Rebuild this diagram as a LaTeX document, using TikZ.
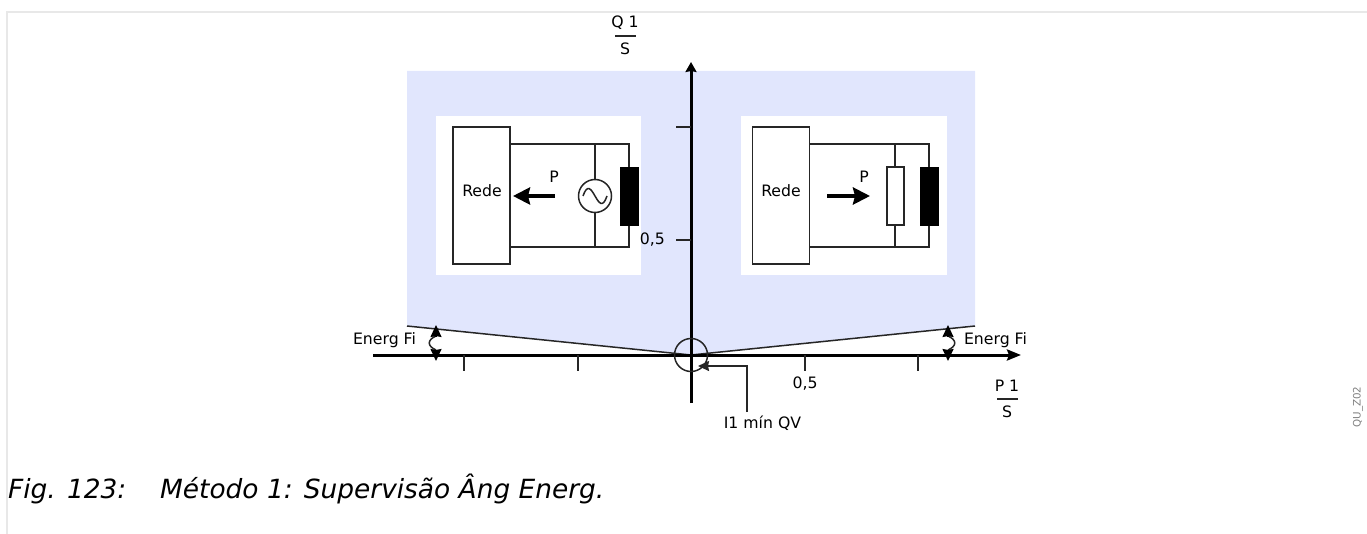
\documentclass[tikz,border=0pt]{standalone}
\usepackage{fontspec}
\setmainfont{DejaVu Sans}
\usetikzlibrary{arrows.meta}
\definecolor{zoneFill}{HTML}{E1E6FD}
\definecolor{frameLine}{HTML}{E8E8E8}
\definecolor{markText}{HTML}{808080}
\tikzset{
  lbl/.style    ={inner sep=0pt, align=center, font=\fontsize{15.7}{18}\selectfont},
  capt/.style   ={inner sep=0pt, anchor=base west, font=\fontsize{26.4}{30}\selectfont\itshape},
  wire/.style   ={line width=1.5pt, draw=black!85},
  haxis/.style  ={line width=3pt, -{Stealth[length=14pt,width=11pt,inset=2pt]}},
  vaxis/.style  ={line width=3pt, -{Stealth[length=10pt,width=11pt,inset=1pt]}},
  tick/.style   ={line width=1.5pt, draw=black!85},
  panel/.style  ={fill=white, draw=none, inner sep=0pt},
  netbox/.style ={draw=black!85, fill=white, line width=1.5pt, inner sep=0pt, minimum width=57pt, minimum height=137pt},
  choke/.style  ={draw=black, fill=black, inner sep=0pt, minimum width=18pt, minimum height=58pt},
  resist/.style ={draw=black!85, fill=white, line width=1.5pt, inner sep=0pt, minimum width=17pt, minimum height=58pt},
  source/.style ={draw=black!85, fill=white, circle, line width=1.5pt, inner sep=0pt, minimum size=33pt},
  parr/.style   ={line width=4pt, -{Stealth[length=17pt,width=17pt,inset=2pt]}},
  angtip/.style ={line width=1.5pt, -{Stealth[length=12pt,width=11pt,inset=1pt]}},
  frac/.style   ={line width=1.5pt, draw=black!85},
}
\begin{document}
\begin{tikzpicture}[x=1pt,y=-1pt]
  \useasboundingbox (0,0) rectangle (1367,534);
  % page frame
  \coordinate (fa) at (7,534);
  \coordinate (fb) at (7,12);
  \coordinate (fc) at (1367,12);
  \draw[frameLine, line width=1.5pt] (fa)--(fb)--(fc);

  % blue zone, closed by the two sloped lines
  \coordinate (zl) at (407,326);
  \coordinate (zr) at (975,326);
  \coordinate (org) at (691,355);
  \fill[zoneFill] (zl) -- (407,71) -- (975,71) -- (zr) -- (org) -- cycle;
  \draw[wire] (zl) -- (org) -- (zr);

  % left panel
  \node[panel, minimum width=205pt, minimum height=159pt] (pl) at (538.5,195.5) {};
  \coordinate (lt) at (629,144);
  \coordinate (lb) at (629,247);
  \coordinate (lmt) at (595,144);
  \coordinate (lmb) at (595,247);
  \node[netbox] (netl) at (481.5,195.5) {};
  \node[lbl] (tnetl) at (482,191) {Rede};
  \draw[wire] (netl.east |- lt) -- (lt) -- (lb) -- (netl.east |- lb);
  \draw[wire] (lmt) -- (lmb);
  \node[source] (src) at (595,196) {};
  \coordinate (sa) at (583,196);
  \coordinate (sb) at (607,196);
  \draw[wire] (sa) .. controls (592,170) and (598,222) .. (sb);
  \node[choke] (chl) at (629,196) {};
  \coordinate (pla) at (555,196);
  \coordinate (plb) at (513,196);
  \draw[parr] (pla) -- (plb);
  \node[lbl] (tpl) at (554,177) {P};

  % right panel
  \node[panel, minimum width=206pt, minimum height=159pt] (pr) at (844,195.5) {};
  \coordinate (rt) at (929,144);
  \coordinate (rb) at (929,247);
  \coordinate (rmt) at (895,144);
  \coordinate (rmb) at (895,247);
  \node[netbox] (netr) at (781,195.5) {};
  \node[lbl] (tnetr) at (781,191) {Rede};
  \draw[wire] (netr.east |- rt) -- (rt) -- (rb) -- (netr.east |- rb);
  \draw[wire] (rmt) -- (rmb);
  \node[resist] (res) at (895.5,196) {};
  \node[choke] (chr) at (929,196) {};
  \coordinate (pra) at (827,196);
  \coordinate (prb) at (870,196);
  \draw[parr] (pra) -- (prb);
  \node[lbl] (tpr) at (864,177) {P};

  % axes and ticks
  \coordinate (xa) at (373,355);
  \coordinate (xb) at (1021,355);
  \coordinate (ya) at (691,403);
  \coordinate (yb) at (691,62);
  \draw[haxis] (xa) -- (xb);
  \draw[vaxis] (ya) -- (yb);
  \foreach \tx in {464,578,805,918} \draw[tick] (\tx,355) -- (\tx,371);
  \foreach \ty in {127,240} \draw[tick] (676,\ty) -- (691,\ty);
  \node[lbl, anchor=east] (tq) at (665,240) {0,5};
  \node[lbl] (tp) at (805,384) {0,5};

  % axis names
  \node[lbl] (tq1) at (625,23) {Q 1};
  \draw[frac] (615,36) -- (636,36);
  \node[lbl] (ts1) at (625,49) {S};
  \node[lbl] (tp1) at (1007,386) {P 1};
  \draw[frac] (997,399) -- (1018,399);
  \node[lbl] (ts2) at (1007,412) {S};

  % angle marks
  \node[lbl] (tfl) at (384.5,340) {Energ Fi};
  \node[lbl] (tfr) at (995.5,340) {Energ Fi};
  \coordinate (ala) at (436,325);
  \coordinate (alb) at (436,361);
  \coordinate (alc) at (436,336);
  \coordinate (ald) at (436,350);
  \coordinate (ara) at (948,325);
  \coordinate (arb) at (948,361);
  \coordinate (arc) at (948,336);
  \coordinate (ard) at (948,350);
  \draw[wire] (alc) .. controls (427,340) and (427,346) .. (ald);
  \draw[wire] (arc) .. controls (957,340) and (957,346) .. (ard);
  \draw[angtip] (alc) -- (ala);
  \draw[angtip] (ald) -- (alb);
  \draw[angtip] (arc) -- (ara);
  \draw[angtip] (ard) -- (arb);

  % minimum current circle and its label
  \node[draw=black!85, circle, line width=1.5pt, inner sep=0pt, minimum size=33pt] (cmin) at (org) {};
  \node[lbl] (tmin) at (762.5,423) {I1 mín QV};
  \coordinate (la) at (747,412);
  \coordinate (lc) at (747,366);
  \coordinate (ld) at (698,366);
  \draw[wire, -{Stealth[length=11pt,width=10pt,inset=1pt]}] (la) -- (lc) -- (ld);

  % caption and drawing mark
  \node[capt] (capa) at (8,498) {Fig. 123:};
  \node[capt] (capb) at (160,498) {Método 1: Supervisão Âng Energ.};
  \node[inner sep=0pt, rotate=90, text=markText, font=\fontsize{10.3}{12}\selectfont] (mark) at (1358,407) {QU\_Z02};
\end{tikzpicture}
\end{document}
